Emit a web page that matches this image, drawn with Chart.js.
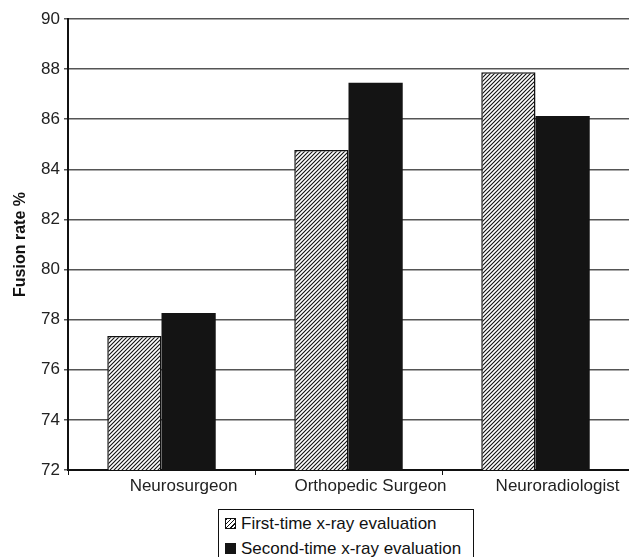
<!DOCTYPE html>
<html>
<head>
<meta charset="utf-8">
<script src="https://cdn.jsdelivr.net/npm/chart.js@4.4.1/dist/chart.umd.min.js"></script>
<style>
  body { margin: 0; background: #fff; font-family: Arial, "Liberation Sans", sans-serif; }
  #wrap { position: relative; width: 629px; height: 557px; overflow: hidden; }
  #chart { position: absolute; left: 0; top: 0; }
  #legend {
    position: absolute; left: 218px; top: 509px; width: 256px; height: 60px;
    border: 1.5px solid #111; box-sizing: border-box; padding: 1px 0 0 6px;
    font-size: 17px; color: #111; line-height: 25px; white-space: nowrap;
  }
  .sw { display: inline-block; width: 11px; height: 11px; margin-right: 5px; vertical-align: 0px; box-sizing: border-box; }
  .hatch { border: 1.5px solid #111; background: repeating-linear-gradient(135deg, #111 0 1px, #fff 1px 3px); }
  .solid { background: #141414; }
</style>
</head>
<body>
<div id="wrap">
  <canvas id="chart" width="629" height="505"></canvas>
  <div id="legend">
    <div><span class="sw hatch"></span>First-time x-ray evaluation</div>
    <div><span class="sw solid"></span>Second-time x-ray evaluation</div>
  </div>
</div>
<script>
var categorias = ["Neurosurgeon", "Orthopedic Surgeon", "Neuroradiologist"];
var primeraVez = [77.35, 84.77, 87.87];
var segundaVez = [78.27, 87.46, 86.13];
var ticksY = [72, 74, 76, 78, 80, 82, 84, 86, 88, 90];

// patron rayado para la primera serie
function crearRayado() {
    var c = document.createElement('canvas');
    c.width = 4; c.height = 4;
    var g = c.getContext('2d');
    g.fillStyle = '#fff';
    g.fillRect(0, 0, 4, 4);
    g.strokeStyle = '#111';
    g.lineWidth = 1.1;
    g.beginPath();
    g.moveTo(-1, 5); g.lineTo(5, -1);
    g.moveTo(-1, 1); g.lineTo(1, -1);
    g.moveTo(3, 5); g.lineTo(5, 3);
    g.stroke();
    return g.createPattern(c, 'repeat');
}

var ctx = document.getElementById('chart').getContext('2d');
var fuente = "Arial, 'Liberation Sans', sans-serif";

new Chart(ctx, {
    type: 'bar',
    data: {
        labels: categorias,
        datasets: [{
            label: "First-time x-ray evaluation",
            data: primeraVez,
            backgroundColor: crearRayado(),
            borderColor: '#111',
            borderWidth: 1.5,
            borderSkipped: 'bottom'
        }, {
            label: "Second-time x-ray evaluation",
            data: segundaVez,
            backgroundColor: '#141414',
            borderWidth: 0
        }]
    },
    options: {
        responsive: false,
        animation: false,
        layout: { padding: { top: 19, right: 0, left: 0, bottom: 0 } },
        plugins: {
            legend: { display: false },
            tooltip: { enabled: false }
        },
        datasets: { bar: { barPercentage: 1, categoryPercentage: 0.58 } },
        scales: {
            x: {
                grid: { drawOnChartArea: false, offset: true, tickLength: 5, color: '#111', lineWidth: 1 },
                border: { color: '#111', width: 2 },
                ticks: { color: '#222', font: { family: fuente, size: 17 }, padding: 1, maxRotation: 0, labelOffset: 22 },
                afterFit: function(s) { s.height = 35; }
            },
            y: {
                min: 72, max: 90,
                afterBuildTicks: function(s) { s.ticks = ticksY.map(function(v) { return { value: v }; }); },
                grid: { color: '#555', lineWidth: 1.5, tickLength: 4 },
                border: { color: '#111', width: 2 },
                ticks: { color: '#222', font: { family: fuente, size: 17 }, padding: 4 },
                title: { display: true, text: 'Fusion rate %', color: '#111', font: { family: fuente, size: 16, weight: 'bold' }, padding: { top: 11, bottom: 0 } },
                afterFit: function(s) { s.width = 68; }
            }
        }
    }
});
</script>
</body>
</html>
